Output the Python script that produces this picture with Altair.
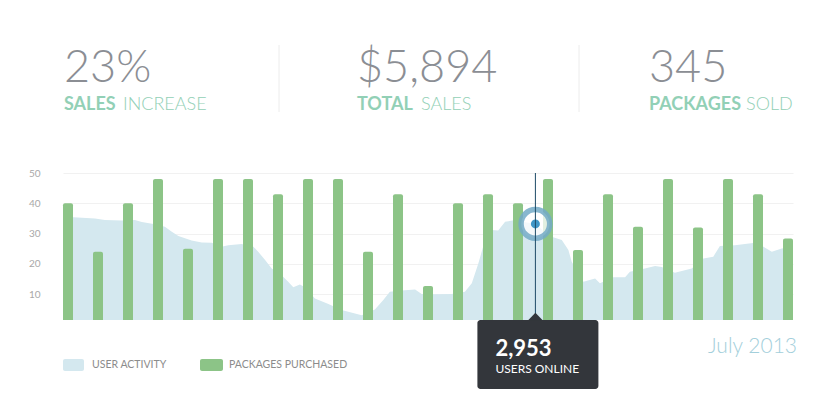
import altair as alt
import pandas as pd

# ---- data ----
kpi_values = ["23%", "$5,894", "345"]
kpi_bold = ["SALES", "TOTAL", "PACKAGES"]
kpi_light = ["INCREASE", "SALES", "SOLD"]

packages = [40, 24, 40, 48, 25, 48, 48, 43, 48, 48, 24, 43, 12.7,
            40, 43, 40, 48, 24.6, 43, 32.3, 48, 32, 48, 43, 28.4]

activity_t = [-0.167, 0.18, 0.9, 1.23, 1.79, 2.23, 2.46, 2.9, 3.23, 3.46, 3.68,
              4.12, 4.46, 4.79, 5.12, 5.34, 5.79, 6.18, 6.34, 6.57, 6.79, 7.12,
              7.34, 7.51, 7.73, 7.9, 8.23, 8.68, 9.12, 9.79, 10.23, 10.51, 10.73,
              11.12, 11.57, 11.79, 12.23, 12.79, 13.23, 13.46, 13.68, 13.9, 14.12,
              14.34, 14.57, 14.9, 15.34, 15.58, 15.9, 16.12, 16.46, 16.68, 16.79,
              17.18, 17.57, 17.73, 18.18, 18.57, 18.73, 19.23, 19.57, 19.79, 20.23,
              20.79, 21.18, 21.51, 21.73, 22.23, 22.9, 23.18, 23.46, 23.79, 24.167]
activity_v = [35.3, 35.4, 35.0, 34.5, 34.3, 34.5, 33.8, 33.1, 32.3, 30.6, 29.2,
              27.7, 27.1, 27.0, 25.7, 26.2, 26.6, 25.7, 24.0, 21.3, 18.5, 16.3,
              14.1, 12.3, 13.2, 12.3, 8.6, 6.8, 4.8, 3.1, 5.0, 8.1, 10.8,
              11.2, 11.6, 10.1, 10.0, 10.1, 10.8, 13.6, 20.2, 27.9, 31.2,
              31.0, 33.9, 34.5, 33.6, 33.2, 30.5, 29.0, 27.9, 24.6, 20.7,
              14.1, 15.2, 13.6, 15.6, 15.6, 17.4, 18.5, 19.3, 19.0, 17.1,
              18.5, 21.8, 22.4, 25.9, 26.2, 27.0, 25.7, 24.0, 25.1, 25.7]

hover_t = [15.58]
hover_v = [33.2]
hover_label = ["2,953"]
hover_caption = "USERS ONLINE"

legend_labels = ["USER ACTIVITY", "PACKAGES PURCHASED"]
month_label = "July 2013"
y_ticks = [10, 20, 30, 40, 50]
y_floor = 1.5

# ---- styles ----
FONT = "Lato"
AREA_C = "#d4e8ef"
BAR_C = "#8cc487"
MINT = "#92d0b6"
GRAY = "#8b8e94"
TIP_C = "#33363b"

bars_df = pd.DataFrame({"t": [float(i) for i in range(len(packages))], "v": packages})
area_df = pd.DataFrame({"t": activity_t, "v": activity_v})
hover_df = pd.DataFrame({"t": hover_t, "v": hover_v, "label": hover_label})
one = pd.DataFrame({"a": [0]})

xs = alt.Scale(domain=[-1 / 6, 24 + 1 / 6], nice=False, zero=False, padding=0)
ys = alt.Scale(domain=[y_floor, 50], nice=False, zero=False)
x_enc = alt.X("t:Q", scale=xs, axis=None)
y_enc = alt.Y("v:Q", scale=ys, axis=alt.Axis(
    values=y_ticks, grid=True, gridColor="#f1f1f1", domain=False, ticks=False,
    labelColor="#a8a8a8", labelFontSize=10, labelPadding=23, title=None,
    labelFont=FONT))

area = alt.Chart(area_df).mark_area(color=AREA_C, clip=True, opacity=1).encode(x=x_enc, y=y_enc)
bars = alt.Chart(bars_df).mark_bar(color=BAR_C, size=10, cornerRadiusTopLeft=2,
                                   cornerRadiusTopRight=2).encode(
    x=x_enc, y=y_enc, y2=alt.datum(y_floor))

halo = alt.Chart(hover_df).mark_point(filled=True, color="white", size=800, opacity=0.75).encode(x=x_enc, y=y_enc)
ring = alt.Chart(hover_df).mark_point(filled=False, stroke="#74abc7", strokeWidth=5.5, size=820,
                                      opacity=0.85).encode(x=x_enc, y=y_enc)
dot = alt.Chart(hover_df).mark_point(filled=True, color="#3f97c7", size=81, opacity=1).encode(x=x_enc, y=y_enc)
vline = alt.Chart(hover_df).mark_rule(color="#1d4a66", strokeWidth=1).encode(
    x=x_enc, y=alt.value(0), y2=alt.value(147))
tip_box = alt.Chart(hover_df).mark_rect(color=TIP_C, cornerRadius=3, xOffset=-58, x2Offset=63).encode(
    x=x_enc, x2="t:Q", y=alt.value(147), y2=alt.value(216))
tip_arrow = alt.Chart(hover_df).mark_point(shape="M-1,0L0,-1.05L1,0Z", filled=True, color=TIP_C,
                                           size=225, opacity=1, strokeWidth=0).encode(
    x=x_enc, y=alt.value(147.5))
tip_num = alt.Chart(hover_df).mark_text(align="left", dx=-40, fontSize=22, fontWeight="bold",
                                        color="white", font=FONT).encode(
    x=x_enc, y=alt.value(176), text="label:N")
tip_cap = alt.Chart(hover_df).mark_text(align="left", dx=-40, fontSize=12, color="white",
                                        font=FONT, text=hover_caption).encode(
    x=x_enc, y=alt.value(196))


def txt(s, x, y, size, color, weight="normal", align="left", baseline="alphabetic"):
    return alt.Chart(one).mark_text(text=s, fontSize=size, color=color, fontWeight=weight,
                                    align=align, baseline=baseline, font=FONT).encode(
        x=alt.value(x), y=alt.value(y))


def rect(x, x2, y, y2, color, r=0):
    return alt.Chart(one).mark_rect(color=color, cornerRadius=r).encode(
        x=alt.value(x), x2=alt.value(x2), y=alt.value(y), y2=alt.value(y2))


def vrule(x, y, y2, color):
    return alt.Chart(one).mark_rule(color=color).encode(
        x=alt.value(x), y=alt.value(y), y2=alt.value(y2))


kpi_x = [1, 294, 586]
light_x = [60, 358, 683]
extras = []
for i in range(3):
    extras.append(txt(kpi_values[i], kpi_x[i], -91, 45, GRAY, weight=300))
    extras.append(txt(kpi_bold[i], kpi_x[i], -63, 18, MINT, weight="bold"))
    extras.append(txt(kpi_light[i], light_x[i], -63, 18, MINT, weight=300))
extras.append(vrule(216, -128, -61, "#ececec"))
extras.append(vrule(516, -128, -61, "#ececec"))

extras.append(rect(0, 21, 186, 198, AREA_C, 2))
extras.append(txt(legend_labels[0], 29, 192, 10.5, "#8c8c8c", baseline="middle"))
extras.append(rect(137, 160, 186, 198, BAR_C, 2))
extras.append(txt(legend_labels[1], 166, 192, 10.5, "#8c8c8c", baseline="middle"))
extras.append(txt(month_label, 734, 180, 21, "#a3cfdb", weight=300, align="right"))

chart = alt.layer(area, bars, halo, ring, dot, vline, tip_box, tip_arrow, tip_num, tip_cap,
                  *extras).properties(
    width=730, height=147,
    padding={"left": 55, "top": 165, "right": 30, "bottom": 85},
    autosize=alt.AutoSizeParams(type="none"),
).configure_view(stroke=None)

chart.save("out.html", embed_options={"renderer": "svg", "actions": False})
